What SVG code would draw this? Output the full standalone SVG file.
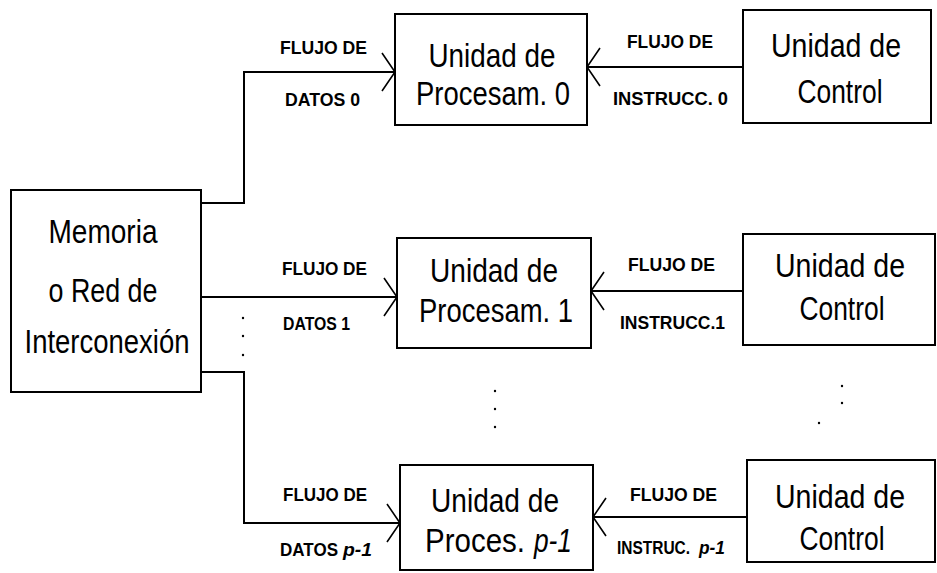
<svg xmlns="http://www.w3.org/2000/svg" width="937" height="573" viewBox="0 0 937 573">
<style>
.box{fill:#fff;stroke:#000;stroke-width:2}
.big{font-family:"Liberation Sans Narrow","Liberation Sans",Arial,sans-serif;font-size:33px;fill:#000;text-anchor:middle}
.st{text-anchor:start}
.it{font-style:italic}
.lab{font-family:"Liberation Sans Narrow","Liberation Sans",Arial,sans-serif;font-size:18px;font-weight:bold;fill:#000}
.ln{fill:none;stroke:#000;stroke-width:2}
.dot{fill:#000}
</style>
<defs>
<marker id="ah" markerUnits="userSpaceOnUse" viewBox="-16 -22 20 44" markerWidth="20" markerHeight="44" refX="0" refY="0" orient="auto" overflow="visible">
<path d="M-13,-19 L0,0 L-13,19" fill="none" stroke="#000" stroke-width="1.6"/>
</marker>
</defs>
<rect width="937" height="573" fill="#fff"/>
<g id="connectors">
<path class="ln" d="M201,203 H244 V72 H395" marker-end="url(#ah)"/>
<path class="ln" d="M201,297 H397" marker-end="url(#ah)"/>
<path class="ln" d="M201,372 H244 V523 H400" marker-end="url(#ah)"/>
<path class="ln" d="M743,67 H587" marker-end="url(#ah)"/>
<path class="ln" d="M743,291 H591" marker-end="url(#ah)"/>
<path class="ln" d="M747,517 H593" marker-end="url(#ah)"/>
<text class="lab" x="280" y="54" textLength="87" lengthAdjust="spacingAndGlyphs">FLUJO DE</text>
<text class="lab" x="285" y="106" textLength="75" lengthAdjust="spacingAndGlyphs">DATOS 0</text>
<text class="lab" x="627" y="48" textLength="86" lengthAdjust="spacingAndGlyphs">FLUJO DE</text>
<text class="lab" x="613" y="105" textLength="115" lengthAdjust="spacingAndGlyphs">INSTRUCC. 0</text>
<text class="lab" x="282" y="275" textLength="85" lengthAdjust="spacingAndGlyphs">FLUJO DE</text>
<text class="lab" x="283" y="330" textLength="67" lengthAdjust="spacingAndGlyphs">DATOS 1</text>
<text class="lab" x="628" y="271" textLength="87" lengthAdjust="spacingAndGlyphs">FLUJO DE</text>
<text class="lab" x="620" y="329" textLength="105" lengthAdjust="spacingAndGlyphs">INSTRUCC.1</text>
<text class="lab" x="283" y="501" textLength="84" lengthAdjust="spacingAndGlyphs">FLUJO DE</text>
<text class="lab" x="280" y="556" textLength="58" lengthAdjust="spacingAndGlyphs">DATOS</text>
<text class="lab it" x="343" y="556" textLength="29" lengthAdjust="spacingAndGlyphs">p-1</text>
<text class="lab" x="630" y="501" textLength="87" lengthAdjust="spacingAndGlyphs">FLUJO DE</text>
<text class="lab" transform="translate(617,554) scale(0.86,1)" x="0" y="0">INSTRUC.</text>
<text class="lab it" x="699" y="554" textLength="26" lengthAdjust="spacingAndGlyphs">p-1</text>
</g>
<g id="memoria">
<rect class="box" x="11" y="190" width="190" height="202"/>
<text class="big" x="103" y="243" textLength="109" lengthAdjust="spacingAndGlyphs">Memoria</text>
<text class="big" x="103" y="302" textLength="109" lengthAdjust="spacingAndGlyphs">o Red de</text>
<text class="big" x="107" y="353" textLength="165" lengthAdjust="spacingAndGlyphs">Interconexión</text>
</g>
<g id="pu0">
<rect class="box" x="395" y="14" width="192" height="111"/>
<text class="big" x="492" y="67" textLength="127" lengthAdjust="spacingAndGlyphs">Unidad de</text>
<text class="big" x="493" y="105" textLength="154" lengthAdjust="spacingAndGlyphs">Procesam. 0</text>
</g>
<g id="cu0">
<rect class="box" x="743" y="10" width="188" height="113"/>
<text class="big" x="836" y="57" textLength="130" lengthAdjust="spacingAndGlyphs">Unidad de</text>
<text class="big" x="840" y="103" textLength="85" lengthAdjust="spacingAndGlyphs">Control</text>
</g>
<g id="pu1">
<rect class="box" x="397" y="238" width="194" height="110"/>
<text class="big" x="494" y="282" textLength="128" lengthAdjust="spacingAndGlyphs">Unidad de</text>
<text class="big" x="496" y="322" textLength="154" lengthAdjust="spacingAndGlyphs">Procesam. 1</text>
</g>
<g id="cu1">
<rect class="box" x="743" y="234" width="192" height="111"/>
<text class="big" x="840" y="277" textLength="130" lengthAdjust="spacingAndGlyphs">Unidad de</text>
<text class="big" x="842" y="320" textLength="85" lengthAdjust="spacingAndGlyphs">Control</text>
</g>
<g id="pup1">
<rect class="box" x="400" y="465" width="193" height="105"/>
<text class="big" x="495" y="512" textLength="128" lengthAdjust="spacingAndGlyphs">Unidad de</text>
<text class="big st" x="425" y="552" textLength="100" lengthAdjust="spacingAndGlyphs">Proces.</text>
<text class="big st it" x="534" y="552" textLength="38" lengthAdjust="spacingAndGlyphs">p-1</text>
</g>
<g id="cup1">
<rect class="box" x="747" y="460" width="188" height="102"/>
<text class="big" x="840" y="508" textLength="130" lengthAdjust="spacingAndGlyphs">Unidad de</text>
<text class="big" x="842" y="550" textLength="85" lengthAdjust="spacingAndGlyphs">Control</text>
</g>
<g id="ellipses">
<circle class="dot" cx="243" cy="318" r="1.2"/>
<circle class="dot" cx="243" cy="336" r="1.2"/>
<circle class="dot" cx="243" cy="355" r="1.2"/>
<circle class="dot" cx="495" cy="391" r="1.2"/>
<circle class="dot" cx="495" cy="409" r="1.2"/>
<circle class="dot" cx="495" cy="427" r="1.2"/>
<circle class="dot" cx="842" cy="386" r="1.2"/>
<circle class="dot" cx="842" cy="403" r="1.2"/>
<circle class="dot" cx="819" cy="423" r="1.2"/>
</g>
</svg>
